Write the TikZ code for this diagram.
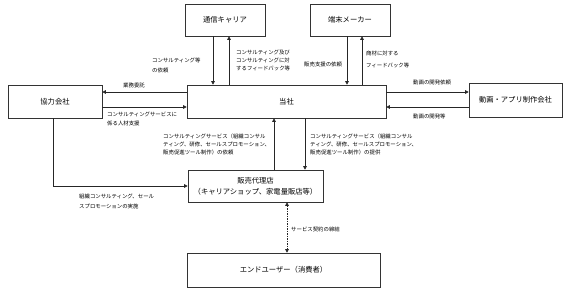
\documentclass[tikz,border=0pt]{standalone}
\usepackage{fontspec}
\setmainfont{Noto Sans CJK JP}
\usetikzlibrary{arrows.meta}
\begin{document}
\begin{tikzpicture}[x=1pt,y=-1pt,
  box/.style={draw=black!80, line width=0.6pt, inner sep=0pt, font=\fontsize{7.3}{11}\selectfont, align=center},
  lab/.style={font=\fontsize{5.4}{8}\selectfont, align=left, inner sep=0pt, anchor=west},
  arr/.style={draw=black!85, line width=0.6pt, -{Triangle[length=3.5pt,width=3.5pt]}},
  darr/.style={draw=black!85, line width=0.6pt, dashed, dash pattern=on 1.5pt off 1pt, {Triangle[length=3.5pt,width=3.5pt]}-{Triangle[length=3.5pt,width=3.5pt]}}]
\useasboundingbox (0,0) rectangle (571,292);
\fill[white] (0,0) rectangle (571,292);
% boxes
\node[box, minimum width=80pt, minimum height=32pt] (carrier) at (225,20) {通信キャリア};
\node[box, minimum width=80pt, minimum height=32pt] (maker) at (350,20) {端末メーカー};
\node[box, minimum width=94pt, minimum height=33pt] (partner) at (55,101.5) {協力会社};
\node[box, minimum width=199pt, minimum height=33pt] (us) at (286.5,101.5) {当社};
\node[box, minimum width=93pt, minimum height=34pt] (video) at (515.5,100) {動画・アプリ制作会社};
\node[box, minimum width=135pt, minimum height=32pt] (agent) at (255.5,186) {販売代理店\\（キャリアショップ、家電量販店等）};
\node[box, minimum width=193pt, minimum height=34pt] (user) at (283.5,270) {エンドユーザー（消費者）};
% helper coordinates
\coordinate (xa) at (213,0);
\coordinate (xb) at (229,0);
\coordinate (xc) at (347,0);
\coordinate (xd) at (362,0);
\coordinate (xe) at (274,0);
\coordinate (xf) at (305,0);
\coordinate (xg) at (287,0);
\coordinate (xh) at (53,0);
\coordinate (ya) at (0,92);
\coordinate (yb) at (0,107);
% connectors
\draw[arr] (xa |- carrier.south) -- (xa |- us.north);
\draw[arr] (xb |- us.north) -- (xb |- carrier.south);
\draw[arr] (xc |- maker.south) -- (xc |- us.north);
\draw[arr] (xd |- us.north) -- (xd |- maker.south);
\draw[arr] (us.west |- ya) -- (partner.east |- ya);
\draw[arr] (partner.east |- yb) -- (us.west |- yb);
\draw[arr] (us.east |- ya) -- (video.west |- ya);
\draw[arr] (video.west |- yb) -- (us.east |- yb);
\draw[arr] (xe |- agent.north) -- (xe |- us.south);
\draw[arr] (xf |- us.south) -- (xf |- agent.north);
\draw[arr] (xh |- partner.south) |- (agent.west);
\draw[darr] (xg |- agent.south) -- (xg |- user.north);
% labels
\node[lab, font=\fontsize{5.4}{10}\selectfont] (l1) at (152,65) {コンサルティング等\\の依頼};
\node[lab] (l2) at (236,60) {コンサルティング及び\\コンサルティングに対\\するフィードバック等};
\node[lab] (l3) at (304,64) {販売支援の依頼};
\node[lab, font=\fontsize{5.4}{12}\selectfont] (l4) at (366,59) {商材に対する\\フィードバック等};
\node[lab] (l5) at (123,85) {業務委託};
\node[lab, font=\fontsize{5.4}{9}\selectfont] (l6) at (107,118.5) {コンサルティングサービスに\\係る人材支援};
\node[lab] (l7) at (413,82) {動画の開発依頼};
\node[lab] (l8) at (413,116) {動画の開発等};
\node[lab] (l9) at (163,144) {コンサルティングサービス（組織コンサル\\ティング、研修、セールスプロモーション、\\販売促進ツール制作）の依頼};
\node[lab] (l10) at (310,144) {コンサルティングサービス（組織コンサル\\ティング、研修、セールスプロモーション、\\販売促進ツール制作）の提供};
\node[lab, font=\fontsize{5.4}{10}\selectfont] (l11) at (79,201) {組織コンサルティング、セール\\スプロモーションの実施};
\node[lab] (l12) at (291,229) {サービス契約の締結};
\end{tikzpicture}
\end{document}
